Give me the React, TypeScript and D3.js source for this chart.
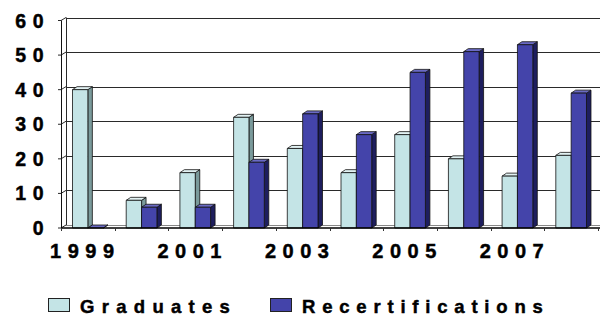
import React from "react";
import * as d3 from "d3";

const years = ["1999", "2000", "2001", "2002", "2003", "2004", "2005", "2006", "2007", "2008"];
const graduates = [40, 8, 16, 32, 23, 16, 27, 20, 15, 21];
const recertifications = [0, 6, 6, 19, 33, 27, 45, 51, 53, 39];
const yTicks = [0, 10, 20, 30, 40, 50, 60];
const xLabels = ["1999", "2001", "2003", "2005", "2007"];

const series = [
  { name: "Graduates", values: graduates, front: "#c4e4e6", side: "#7a9a9b", top: "#e2f2f3" },
  { name: "Recertifications", values: recertifications, front: "#4444aa", side: "#1e1e5e", top: "#6a6ac4" },
];

// 3D depth of the walls and of the bars
const wallDx = 5;
const wallDy = -3;
const barDx = 4.5;
const barDy = -3;
const font = "Arial, 'Liberation Sans', sans-serif";

export default function App() {
  const x = d3.scaleBand<string>().domain(years).range([61, 598]).paddingInner(0);
  const xSub = d3
    .scaleBand<string>()
    .domain(series.map((s) => s.name))
    .range([0, x.bandwidth()])
    .paddingInner(0)
    .paddingOuter(0.75);
  const y = d3.scaleLinear().domain([0, 60]).range([228, 20.5]);
  const y0 = y(0);
  const left = x.range()[0];
  const right = x.range()[1];

  const label = {
    fontFamily: font,
    fontWeight: 700,
    fill: "#000",
    stroke: "#000",
    strokeWidth: 0.45,
  };

  return (
    <svg width={600} height={316} style={{ display: "block", position: "absolute", left: 0, top: 0 }}>
      <rect width={600} height={316} fill="#fff" />

      {/* floor */}
      <line x1={left + wallDx} x2={right + wallDx} y1={y0 + wallDy + 0.5} y2={y0 + wallDy + 0.5} stroke="#888" />

      {/* gridlines on back wall and side wall */}
      {yTicks.map((t) => (
        <g key={t}>
          {t > 0 && (
            <line
              x1={left + wallDx}
              x2={right + wallDx}
              y1={Math.round(y(t) + wallDy) + 0.5}
              y2={Math.round(y(t) + wallDy) + 0.5}
              stroke="#2a2a2a"
            />
          )}
          <line x1={left} y1={y(t)} x2={left + wallDx} y2={y(t) + wallDy} stroke="#2a2a2a" />
          <line x1={left - 3} x2={left} y1={y(t)} y2={y(t)} stroke="#2a2a2a" />
        </g>
      ))}
      <line
        x1={left + wallDx + 0.5}
        x2={left + wallDx + 0.5}
        y1={y(60) + wallDy}
        y2={y0 + wallDy}
        stroke="#2a2a2a"
      />

      {/* bars */}
      {years.map((yr, i) => (
        <g key={yr}>
          {series.map((s) => {
            const v = s.values[i];
            const bx = (x(yr) ?? 0) + (xSub(s.name) ?? 0);
            const w = xSub.bandwidth();
            const by = y(v);
            return (
              <g key={s.name} stroke="#111" strokeWidth={0.8} strokeLinejoin="round">
                <polygon
                  points={`${bx + w},${by} ${bx + w + barDx},${by + barDy} ${bx + w + barDx},${y0 + barDy} ${bx + w},${y0}`}
                  fill={s.side}
                />
                <polygon
                  points={`${bx},${by} ${bx + barDx},${by + barDy} ${bx + w + barDx},${by + barDy} ${bx + w},${by}`}
                  fill={s.top}
                />
                {v > 0 && <rect x={bx} y={by} width={w} height={y0 - by} fill={s.front} />}
              </g>
            );
          })}
        </g>
      ))}

      {/* front axes */}
      <line x1={left + 0.5} x2={left + 0.5} y1={y(60)} y2={y0} stroke="#111" />
      <line x1={left} x2={600} y1={y0} y2={y0} stroke="#000" strokeWidth={1.5} />
      {years.concat(["end"]).map((yr, i) => {
        const tx = Math.round(left + i * x.step()) + 0.5;
        return <line key={yr} x1={tx} x2={tx} y1={y0} y2={y0 + 3} stroke="#333" />;
      })}

      {/* y labels */}
      {yTicks.map((t) => (
        <text key={t} x={50} y={y(t)} dy="0.36em" textAnchor="end" fontSize={19.5} letterSpacing={6.5} {...label}>
          {t}
        </text>
      ))}

      {/* x labels */}
      {xLabels.map((l) => (
        <text
          key={l}
          x={(x(l) ?? 0) + x.bandwidth() / 2 - 2.5}
          y={258}
          textAnchor="middle"
          fontSize={20}
          letterSpacing={6.5}
          {...label}
        >
          {l}
        </text>
      ))}

      {/* legend */}
      {series.map((s, i) => {
        const lx = i === 0 ? 48 : 270;
        return (
          <g key={s.name}>
            <rect x={lx + 0.5} y={298.5} width={21} height={13} fill={s.front} stroke="#222" />
            <text x={lx + 32} y={313} fontSize={18.5} letterSpacing={i === 0 ? 7.3 : 6.8} {...label}>
              {s.name}
            </text>
          </g>
        );
      })}
    </svg>
  );
}
